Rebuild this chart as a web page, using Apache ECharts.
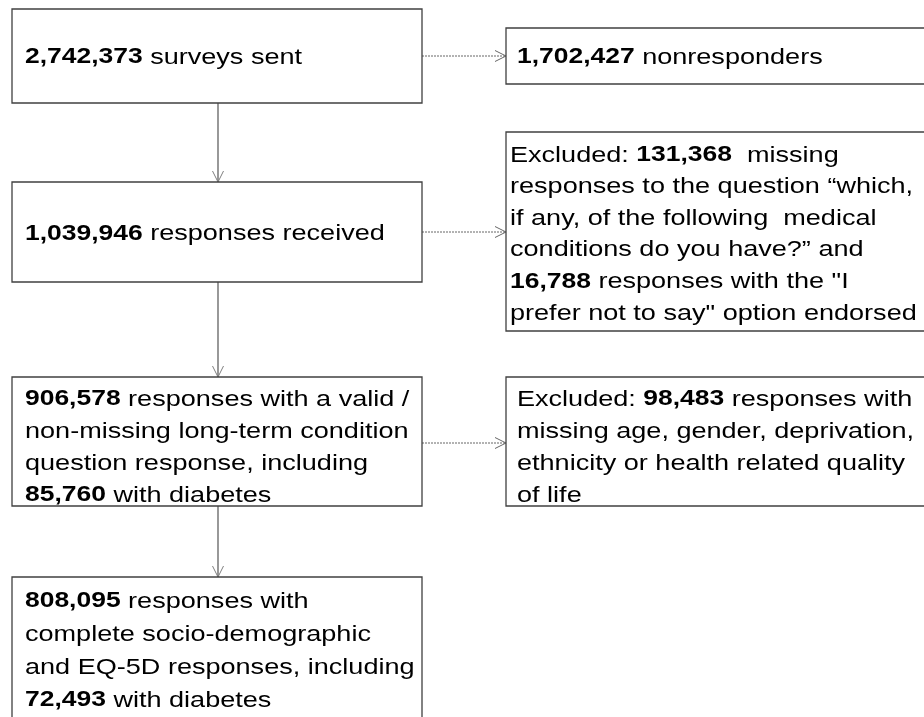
<!DOCTYPE html>
<html lang="en">
<head>
<meta charset="UTF-8">
<title>Flow chart</title>
<script src="https://cdn.jsdelivr.net/npm/echarts@6/dist/echarts.min.js"></script>
<style>
  html, body { margin: 0; padding: 0; background: #fff; }
  #chart_wrap { width: 924px; height: 717px; }
</style>
</head>
<body>
<div id="chart_wrap"></div>
<script type="text/javascript">
// numbers shown in the flow chart
var stepCounts = ['2,742,373', '1,039,946', '906,578', '808,095'];
var excludedCounts = ['1,702,427', '131,368', '16,788', '98,483'];
var diabetesCounts = ['85,760', '72,493'];

function b(s) { return '{b|' + s + '}'; }

// text of every box, one entry per line
var boxTexts = [
  [b(stepCounts[0]) + ' surveys sent'],
  [b(excludedCounts[0]) + ' nonresponders'],
  [b(stepCounts[1]) + ' responses received'],
  ['Excluded: ' + b(excludedCounts[1]) + '  missing',
   'responses to the question \u201cwhich,',
   'if any, of the following  medical',
   'conditions do you have?\u201d and',
   b(excludedCounts[2]) + ' responses with the "I',
   'prefer not to say" option endorsed'],
  [b(stepCounts[2]) + ' responses with a valid /',
   'non-missing long-term condition',
   'question response, including',
   b(diabetesCounts[0]) + ' with diabetes'],
  ['Excluded: ' + b(excludedCounts[3]) + ' responses with',
   'missing age, gender, deprivation,',
   'ethnicity or health related quality',
   'of life'],
  [b(stepCounts[3]) + ' responses with',
   'complete socio-demographic',
   'and EQ-5D responses, including',
   b(diabetesCounts[1]) + ' with diabetes']
];

// box layout in page pixels: x0, y0, x1, y1
var boxRects = [
  [12, 9, 422, 103],
  [506, 28, 930, 84],
  [12, 182, 422, 282],
  [506, 132, 930, 331],
  [12, 377, 422, 506],
  [506, 377, 930, 506],
  [12, 577, 422, 730]
];
var boxPad = [13, 11, 13, 4, 13, 11, 13];
var boxLineHeight = [32, 32, 32, 31.6, 32, 32, 33];
var boxShift = [1.5, 1.5, 2, 3, 6, 6, 0];  // shift of centred text
var boxTop = [0, 0, 0, 0, 0, 0, 8];        // 0 = centred text

// connectors: x0, y0, x1, y1, dashed
var arrows = [
  [218, 103, 218, 182, 0],
  [218, 282, 218, 377, 0],
  [218, 506, 218, 577, 0],
  [422, 56, 506, 56, 1],
  [422, 232, 506, 232, 1],
  [422, 443, 506, 443, 1]
];

var FONT = '"Liberation Sans", Arial, sans-serif';

function renderBox(params, api) {
  var i = params.dataIndex;
  var tl = api.coord([api.value(0), api.value(1)]);
  var br = api.coord([api.value(2), api.value(3)]);
  var lh = boxLineHeight[i];
  var top = boxTop[i];
  return {
    type: 'group',
    children: [
      {
        type: 'rect',
        shape: { x: tl[0], y: tl[1], width: br[0] - tl[0], height: br[1] - tl[1] },
        style: { fill: '#fff', stroke: '#404040', lineWidth: 1.3 }
      },
      {
        type: 'text',
        x: tl[0] + boxPad[i],
        y: top ? tl[1] + top : (tl[1] + br[1]) / 2 + boxShift[i],
        scaleX: 1.23,
        style: {
          text: boxTexts[i].join('\n'),
          fontFamily: FONT,
          fontSize: 22,
          lineHeight: lh,
          fill: '#000',
          align: 'left',
          verticalAlign: top ? 'top' : 'middle',
          rich: {
            b: { fontFamily: FONT, fontSize: 21.5, fontWeight: 'bold', lineHeight: lh, fill: '#000' }
          }
        }
      }
    ]
  };
}

function renderArrow(params, api) {
  var p0 = api.coord([api.value(0), api.value(1)]);
  var p1 = api.coord([api.value(2), api.value(3)]);
  var dashed = api.value(4) === 1;
  var dx = p1[0] - p0[0], dy = p1[1] - p0[1];
  var len = Math.sqrt(dx * dx + dy * dy);
  var ux = dx / len, uy = dy / len;
  var head = 11, half = 5.5;
  var color = dashed ? '#666' : '#7f7f7f';
  return {
    type: 'group',
    children: [
      {
        type: 'line',
        shape: { x1: p0[0], y1: p0[1], x2: p1[0], y2: p1[1] },
        style: { stroke: color, lineWidth: dashed ? 1 : 1.6, lineDash: dashed ? [2, 1] : null }
      },
      {
        type: 'polyline',
        shape: {
          points: [
            [p1[0] - ux * head - uy * half, p1[1] - uy * head + ux * half],
            [p1[0], p1[1]],
            [p1[0] - ux * head + uy * half, p1[1] - uy * head - ux * half]
          ]
        },
        style: { stroke: color, lineWidth: 1, fill: null }
      }
    ]
  };
}

var chart = echarts.init(document.getElementById('chart_wrap'));
var option = {
  animation: false,
  grid: { left: 0, right: 0, top: 0, bottom: 0 },
  xAxis: { type: 'value', min: 0, max: 924, show: false },
  yAxis: { type: 'value', min: 0, max: 717, inverse: true, show: false },
  series: [
    {
      type: 'custom',
      name: 'arrows',
      renderItem: renderArrow,
      data: arrows,
      clip: false,
      silent: true,
      z: 1
    },
    {
      type: 'custom',
      name: 'boxes',
      renderItem: renderBox,
      data: boxRects,
      clip: false,
      silent: true,
      z: 2
    }
  ]
};
chart.setOption(option);
</script>
</body>
</html>
